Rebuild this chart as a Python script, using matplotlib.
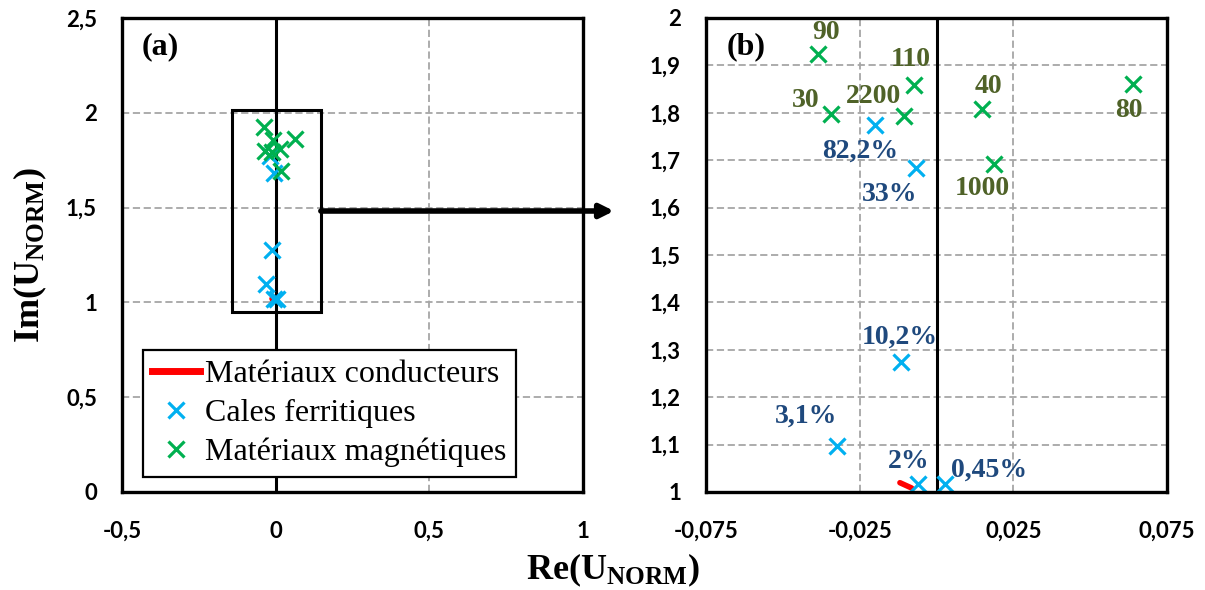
import numpy as np
import matplotlib
matplotlib.use("Agg")
import matplotlib.pyplot as plt
from matplotlib.patches import Rectangle
from matplotlib.lines import Line2D

plt.rcParams['mathtext.fontset'] = 'custom'
plt.rcParams['mathtext.rm'] = 'Liberation Serif'
plt.rcParams['mathtext.bf'] = 'Liberation Serif:bold'

## data
# conducting materials (short red segment)
cond_re = [-0.0119, -0.0081]
cond_im = [1.0196, 1.0084]

# ferritic shims
ferr_re = [-0.0199, -0.0066, -0.0117, -0.0324, -0.0059, 0.0028]
ferr_im = [1.774, 1.684, 1.275, 1.098, 1.017, 1.017]
ferr_lab = ["82,2%", "33%", "10,2%", "3,1%", "2%", "0,45%"]
ferr_lab_re = [-0.0249, -0.0151, -0.0120, -0.0425, -0.0089, 0.0170]
ferr_lab_im = [1.718, 1.627, 1.326, 1.160, 1.064, 1.046]

# magnetic materials
mag_re = [-0.0387, -0.0343, -0.0105, -0.0074, 0.0149, 0.0187, 0.0640]
mag_im = [1.925, 1.797, 1.794, 1.859, 1.808, 1.691, 1.861]
mag_lab = ["90", "30", "2200", "110", "40", "1000", "80"]
mag_lab_re = [-0.0360, -0.0425, -0.0204, -0.0083, 0.0170, 0.0149, 0.0625]
mag_lab_im = [1.970, 1.827, 1.834, 1.913, 1.855, 1.641, 1.804]

# axes ticks
a_xticks = [-0.5, 0, 0.5, 1]
a_xlabels = ["-0,5", "0", "0,5", "1"]
a_yticks = [0, 0.5, 1, 1.5, 2, 2.5]
a_ylabels = ["0", "0,5", "1", "1,5", "2", "2,5"]
b_xticks = [-0.075, -0.025, 0.025, 0.075]
b_xlabels = ["-0,075", "-0,025", "0,025", "0,075"]
b_yticks = [1, 1.1, 1.2, 1.3, 1.4, 1.5, 1.6, 1.7, 1.8, 1.9, 2]
b_ylabels = ["1", "1,1", "1,2", "1,3", "1,4", "1,5", "1,6", "1,7", "1,8", "1,9", "2"]

RED = "#FF0000"
BLUE = "#00B0F0"
GREEN = "#00B050"
BLUE_TXT = "#1F497D"
GREEN_TXT = "#4F6228"
GRID = "#A6A6A6"

fig = plt.figure(figsize=(12.05, 5.9), dpi=100)
axa = fig.add_axes([122/1205, 1-492/590, 461/1205, 474/590])
axb = fig.add_axes([706/1205, 1-492/590, 461/1205, 474/590])

tickfont = dict(family="Lato", weight="bold", size=16)


def style(ax, xt, xl, yt, yl, xlim, ylim, xgrid, ygrid):
    ax.set_xlim(*xlim)
    ax.set_ylim(*ylim)
    ax.set_xticks(xt)
    ax.set_xticklabels(xl, **tickfont)
    ax.set_yticks(yt)
    ax.set_yticklabels(yl, **tickfont)
    ax.tick_params(length=0, pad=18)
    ax.tick_params(axis='x', pad=21)
    for v in xgrid:
        ax.axvline(v, color=GRID, lw=1.3, ls=(0, (4, 2)), zorder=0)
    for v in ygrid:
        ax.axhline(v, color=GRID, lw=1.3, ls=(0, (4, 2)), zorder=0)
    ax.axvline(0, color="black", lw=2.2, zorder=1)
    for s in ax.spines.values():
        s.set_linewidth(2.4)
        s.set_zorder(6)


style(axa, a_xticks, a_xlabels, a_yticks, a_ylabels, (-0.5, 1), (0, 2.5),
      [0.5], [0.5, 1, 1.5, 2])
style(axb, b_xticks, b_xlabels, b_yticks, b_ylabels, (-0.075, 0.075), (1, 2),
      [-0.025, 0.025], [1.1, 1.2, 1.3, 1.4, 1.5, 1.6, 1.7, 1.8, 1.9])

for ax in (axa, axb):
    ax.plot(cond_re, cond_im, color=RED, lw=4, solid_capstyle='round', zorder=3, clip_on=False)
    ax.plot(ferr_re, ferr_im, ls="none", marker="x", ms=11, mew=2.3, color=BLUE, zorder=4, clip_on=False)
    ax.plot(mag_re, mag_im, ls="none", marker="x", ms=11, mew=2.3, color=GREEN, zorder=4, clip_on=False)

# labels in zoom
labfont = dict(family="Liberation Serif", weight="bold", size=20, ha="center", va="center")
for t, x, y in zip(ferr_lab, ferr_lab_re, ferr_lab_im):
    axb.text(x, y, t, color=BLUE_TXT, **labfont)
for t, x, y in zip(mag_lab, mag_lab_re, mag_lab_im):
    axb.text(x, y, t, color=GREEN_TXT, **labfont)

axa.text(0.082, 0.939, "(a)", transform=axa.transAxes, family="Liberation Serif",
         weight="bold", size=23, ha="center", va="center")
axb.text(0.088, 0.939, "(b)", transform=axb.transAxes, family="Liberation Serif",
         weight="bold", size=23, ha="center", va="center")

# zoom rectangle and arrow
axa.add_patch(Rectangle((-0.142, 0.948), 0.289, 1.065, fill=False, ec="black", lw=2.2, zorder=2))
axa.annotate("", xy=(614/1205, 1-211/590), xycoords="figure fraction",
             xytext=(0.147, 1.482), textcoords="data",
             arrowprops=dict(arrowstyle="-|>,head_length=0.8,head_width=0.4",
                             color="black", lw=4, shrinkA=0, shrinkB=0))

handles = [Line2D([], [], color=RED, lw=5),
           Line2D([], [], ls="none", marker="x", ms=11, mew=2.3, color=BLUE),
           Line2D([], [], ls="none", marker="x", ms=11, mew=2.3, color=GREEN)]
leg = axa.legend(handles, ["Matériaux conducteurs", "Cales ferritiques", "Matériaux magnétiques"],
                 loc="lower left", bbox_to_anchor=(0.0445, 0.032), borderaxespad=0,
                 fancybox=False, framealpha=1, edgecolor="black", handlelength=1.5,
                 handletextpad=0.15, borderpad=0.3, labelspacing=0.3,
                 prop=dict(family="Liberation Serif", size=23))
leg.get_frame().set_linewidth(1.6)
leg.set_zorder(7)

fig.text(30/1205, 1-255/590, r"$\mathbf{Im(U_{NORM})}$", rotation=90, ha="center", va="center", size=26)
fig.text(613/1205, 1-570/590, r"$\mathbf{Re(U_{NORM})}$", ha="center", va="center", size=26)

fig.savefig("out.png", dpi=100)
